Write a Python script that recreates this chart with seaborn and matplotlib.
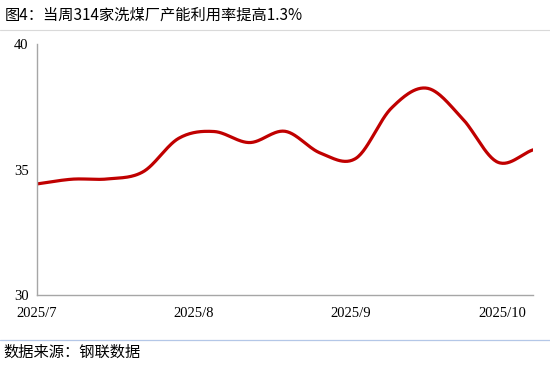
import numpy as np
import pandas as pd
import matplotlib
matplotlib.use("Agg")
import matplotlib.pyplot as plt
import matplotlib.dates as mdates
from matplotlib.lines import Line2D
import seaborn as sns

# ---- data ----
dates = pd.date_range("2025-07-03", periods=15, freq="7D")
values = [34.43, 34.62, 34.63, 34.92, 36.25, 36.52, 36.08, 36.53,
          35.66, 35.45, 37.45, 38.25, 37.05, 35.30, 35.79]
tick_dates = pd.to_datetime(["2025-07-03", "2025-08-03", "2025-09-03", "2025-10-03"])
tick_labels = ["2025/7", "2025/8", "2025/9", "2025/10"]
y_ticks = [30, 35, 40]
title = "图4：当周314家洗煤厂产能利用率提高1.3%"
source = "数据来源：钢联数据"

sns.set_style("white")
plt.rcParams['font.family'] = ['Noto Sans CJK SC', 'DejaVu Sans']

# smooth rendering (Catmull-Rom through the data points, like Excel's smoothed line)
xnum = mdates.date2num(dates)
y = np.asarray(values, float)
P = np.column_stack([xnum, y])
Pext = np.vstack([P[0] - (P[1] - P[0]), P, P[-1] + (P[-1] - P[-2])])
seg = []
t = np.linspace(0, 1, 30)[:, None]
for i in range(1, len(Pext) - 2):
    p0, p1, p2, p3 = Pext[i - 1], Pext[i], Pext[i + 1], Pext[i + 2]
    c = 0.5 * ((2 * p1) + (-p0 + p2) * t + (2 * p0 - 5 * p1 + 4 * p2 - p3) * t ** 2
               + (-p0 + 3 * p1 - 3 * p2 + p3) * t ** 3)
    seg.append(c if i == 1 else c[1:])
curve = np.vstack(seg)
smooth = pd.DataFrame({"date": mdates.num2date(curve[:, 0]), "value": curve[:, 1]})
smooth["date"] = smooth["date"].dt.tz_localize(None)

fig = plt.figure(figsize=(5.5, 3.66), dpi=100)
ax = fig.add_axes([0.0673, 0.194, 0.9018, 0.685])
sns.lineplot(data=smooth, x="date", y="value", ax=ax, color="#C00000",
             linewidth=2.3, estimator=None, sort=False)

ax.set_xlim(dates[0], dates[-1])
ax.set_ylim(30, 40)
ax.set_yticks(y_ticks)
ax.set_xticks(tick_dates)
ax.set_xticklabels(tick_labels)
ax.set_xlabel("")
ax.set_ylabel("")
for s in ["top", "right"]:
    ax.spines[s].set_visible(False)
for s in ["left", "bottom"]:
    ax.spines[s].set_color("#a6a6a6")
    ax.spines[s].set_linewidth(1.0)
ax.tick_params(axis="both", direction="in", length=4, width=1, color="#a6a6a6",
               labelsize=10.5, labelcolor="#000000")
ax.tick_params(axis="x", pad=9)
ax.tick_params(axis="y", pad=6)
for lab in ax.get_xticklabels() + ax.get_yticklabels():
    lab.set_family("Liberation Serif")

fig.text(0.008, 0.958, title, fontsize=11, ha="left", va="center", color="#000000")
fig.add_artist(Line2D([0, 1], [1 - 29.5 / 366, 1 - 29.5 / 366], color="#d9d9d9", linewidth=0.8))
fig.add_artist(Line2D([0, 1], [1 - 340 / 366, 1 - 340 / 366], color="#b4c7e7", linewidth=0.9))
fig.text(0.006, 1 - 352.5 / 366, source, fontsize=11, ha="left", va="center", color="#000000")

fig.savefig("out.png", dpi=100)
